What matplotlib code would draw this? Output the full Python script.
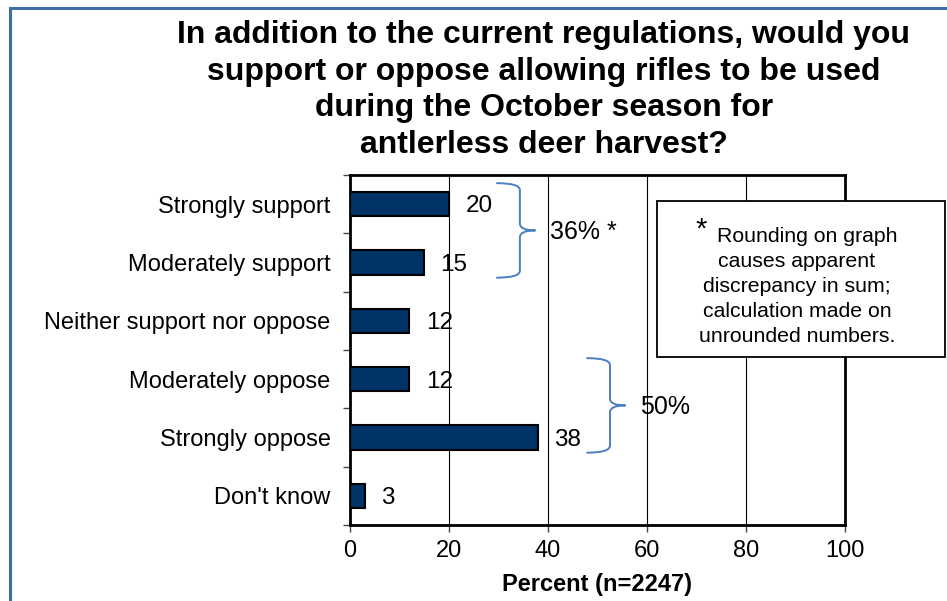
import matplotlib
matplotlib.use('Agg')
import matplotlib.pyplot as plt
from matplotlib.patches import Rectangle, PathPatch
from matplotlib.path import Path

plt.rcParams['font.family'] = ['Liberation Sans', 'DejaVu Sans']

categories = ['Strongly support', 'Moderately support', 'Neither support nor oppose',
              'Moderately oppose', 'Strongly oppose', "Don't know"]
percents = [20, 15, 12, 12, 38, 3]
x_ticks = [0, 20, 40, 60, 80, 100]

# groups summarised with a brace: (first row, last row, label)
groups = [(0, 1, '36% *'), (3, 4, '50%')]
brace_x = [29.7, 47.9]

title = ('In addition to the current regulations, would you\n'
         'support or oppose allowing rifles to be used\n'
         'during the October season for\n'
         'antlerless deer harvest?')
note_lines = ['Rounding on graph', 'causes apparent', 'discrepancy in sum;',
              'calculation made on', 'unrounded numbers.']

BAR_COLOR = '#003366'
BRACE_COLOR = '#4a7fc1'


def draw_brace(ax, x0, width, ya, yb):
    # right-pointing curly brace between ya (top) and yb (bottom), y axis inverted
    xs = x0 + width * 0.6
    x1 = x0 + width
    ym = (ya + yb) / 2
    r = 0.12
    verts = [(x0, ya), (xs, ya), (xs, ya + r),
             (xs, ym - r),
             (xs, ym), (x1, ym),
             (xs, ym), (xs, ym + r),
             (xs, yb - r),
             (xs, yb), (x0, yb)]
    codes = [Path.MOVETO, Path.CURVE3, Path.CURVE3,
             Path.LINETO,
             Path.CURVE3, Path.CURVE3,
             Path.CURVE3, Path.CURVE3,
             Path.LINETO,
             Path.CURVE3, Path.CURVE3]
    ax.add_patch(PathPatch(Path(verts, codes), fill=False, edgecolor=BRACE_COLOR,
                           lw=1.4, capstyle='round', joinstyle='round', zorder=4))


fig = plt.figure(figsize=(9.47, 6.01), dpi=100)
fig.patches.append(Rectangle((10 / 947, -0.05), 1.2, 1 - 8 / 601 + 0.05,
                             transform=fig.transFigure, fill=False,
                             edgecolor='#3f6ea5', lw=2.2))

ax = fig.add_axes([350 / 947, 1 - 525 / 601, 495 / 947, 350 / 601])
ypos = list(range(len(categories)))
ax.barh(ypos, percents, height=0.42, color=BAR_COLOR, edgecolor='black', lw=1.5, zorder=3)
for y, v in zip(ypos, percents):
    ax.text(v + 3.3, y + 0.04, str(v), va='center', ha='left', fontsize=17.5, zorder=5)

ax.set_xlim(0, 100)
ax.set_ylim(len(categories) - 0.5, -0.5)
ax.set_xticks(x_ticks)
ax.set_xticklabels([str(t) for t in x_ticks], fontsize=17)
ax.set_yticks([y + 0.5 for y in ypos[:-1]] + [-0.5, len(categories) - 0.5])
ax.set_yticklabels([])
ax.set_yticks(ypos, minor=True)
ax.set_yticklabels(categories, minor=True, fontsize=17)
ax.tick_params(axis='y', which='minor', length=0, pad=14)
ax.tick_params(axis='y', which='major', length=5, width=1, color='#444444')
ax.tick_params(axis='x', length=5, width=1, color='#444444', pad=6)
ax.xaxis.grid(True, color='black', lw=0.8, zorder=0)
for s in ax.spines.values():
    s.set_linewidth(2)
    s.set_color('black')
ax.set_xlabel('Percent (n=2247)', fontsize=17, fontweight='bold', labelpad=8)

for (a, b, lab), bx in zip(groups, brace_x):
    draw_brace(ax, bx, 7.7, a - 0.36, b + 0.26)
    ax.text(bx + 10.7, (a + b) / 2 - 0.03, lab, va='center', ha='left', fontsize=18, zorder=5)

fig.text(0.574, 0.967, title, ha='center', va='top', fontsize=23, fontweight='bold',
         linespacing=1.29)

# footnote box
fig.patches.append(Rectangle((657 / 947, 1 - 357 / 601), 288 / 947, 156 / 601,
                             transform=fig.transFigure, facecolor='white',
                             edgecolor='black', lw=1.3, zorder=6))
for i, line in enumerate(note_lines):
    yc = 1 - (236 + 25.2 * i) / 601
    if i == 0:
        fig.text(717 / 947, yc, line, ha='left', va='center', fontsize=15.3, zorder=7)
    else:
        fig.text(797 / 947, yc, line, ha='center', va='center', fontsize=15.3, zorder=7)
fig.text(701 / 947, 1 - 216 / 601, '*', ha='center', va='top', fontsize=21, zorder=7)

fig.savefig('out.png', dpi=100)
